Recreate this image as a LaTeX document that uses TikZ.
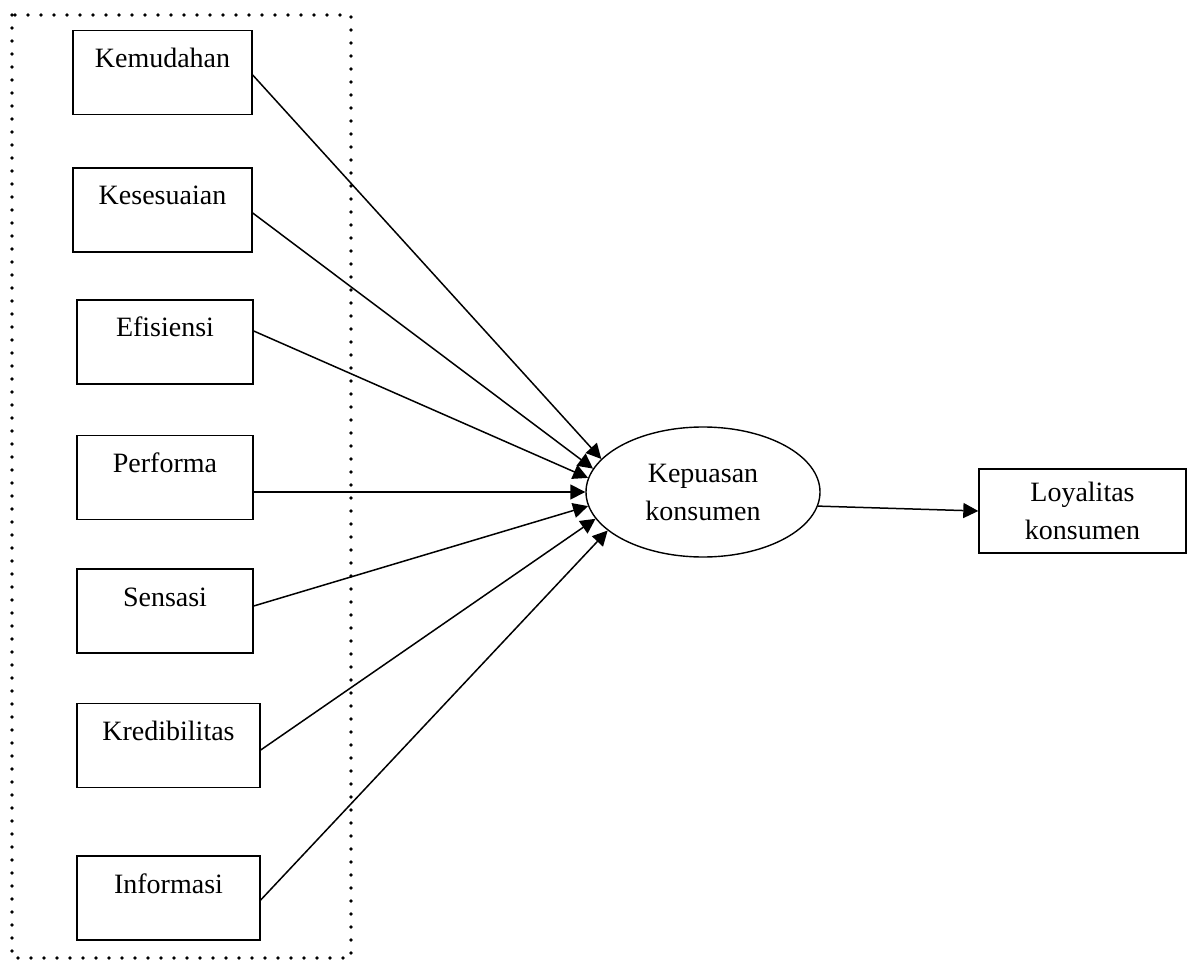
\documentclass[tikz,border=0pt]{standalone}
\usepackage{fontspec}
\setmainfont{Liberation Serif}
\usetikzlibrary{arrows.meta,shapes.geometric}
\begin{document}
\begin{tikzpicture}[x=0.5pt,y=-0.5pt,
  every node/.style={font=\fontsize{14}{19}\selectfont},
  varbox/.style={draw,line width=0.7pt,inner sep=0pt,text height=18.5pt,text depth=23.5pt},
  link/.style={line width=0.75pt,-{Triangle[length=7.5pt,width=7.5pt]}}]
  \useasboundingbox (0,0) rectangle (1188,962);
  % dotted frame round the variables
  \draw[line width=1.9pt,line cap=round,dash pattern=on 0pt off 6.5pt] (12,15) rectangle (351,958);
  \node[varbox,minimum width=89.5pt] (kem) at (162.5,72.5) {Kemudahan};
  \node[varbox,minimum width=89.5pt] (kes) at (162.5,210) {Kesesuaian};
  \node[varbox,minimum width=88pt] (efi) at (165,342) {Efisiensi};
  \node[varbox,minimum width=88pt] (per) at (165,477.5) {Performa};
  \node[varbox,minimum width=88pt] (sen) at (165,611) {Sensasi};
  \node[varbox,minimum width=91.5pt] (kre) at (168.5,745.5) {Kredibilitas};
  \node[varbox,minimum width=91.5pt] (inf) at (168.5,898) {Informasi};
  \node[draw,ellipse,line width=0.7pt,inner sep=0pt,minimum width=117pt,minimum height=65pt,align=center] (kep) at (703,492) {Kepuasan\\konsumen};
  \node[draw,line width=0.7pt,inner sep=0pt,minimum width=103.5pt,minimum height=42pt,align=center] (loy) at (1082.5,511) {Loyalitas\\konsumen};
  \foreach \src/\dy/\ang in {kem/-1.25pt/162,kes/-1.5pt/168,efi/5.5pt/173,per/-7.25pt/180,sen/2.5pt/187,kre/-2.25pt/194,inf/-1pt/202}
    \draw[link] ([yshift=\dy]\src.east) -- (kep.\ang);
  \draw[link] (kep.353) -- (loy.west);
\end{tikzpicture}
\end{document}
